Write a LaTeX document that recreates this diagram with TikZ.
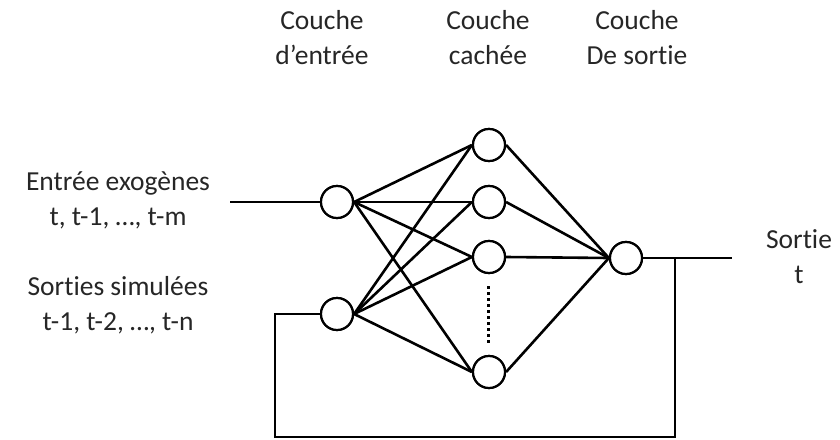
\documentclass[tikz,border=0pt]{standalone}
\usepackage{fontspec}
\setmainfont{Carlito}[Ligatures={NoCommon,NoRare,NoContextual}]
\newcommand{\nolig}{\kern0pt }
\begin{document}
\begin{tikzpicture}[x=1pt,y=-1pt,
  neuron/.style={circle,draw,line width=2.2pt,minimum size=32pt,inner sep=0pt,fill=white},
  conn/.style={line width=2.6pt},
  lbl/.style={align=center,font=\fontsize{27.5}{35}\selectfont,inner sep=0pt,text=black!85}]
\useasboundingbox (0,0) rectangle (840,439);
% nodes
\node[neuron] (i1) at (337,202) {};
\node[neuron] (i2) at (337,314) {};
\node[neuron] (h1) at (489,145) {};
\node[neuron] (h2) at (489,202) {};
\node[neuron] (h3) at (489,257) {};
\node[neuron] (h4) at (489,372) {};
\node[neuron] (o) at (626,258) {};
% labels
\node[lbl] (t1) at (322,38) {Couche\\d’entrée};
\node[lbl] (t2) at (488,38) {Couche\\cachée};
\node[lbl] (t3) at (637,38) {Couche\\De sort\nolig ie};
\node[lbl] (lin1) at (118,200) {Entrée exogènes\\t, t-1, …, t-m};
\node[lbl] (lin2) at (118,305) {Sort\nolig ies simulées\\t-1, t-2, …, t-n};
\node[lbl] (lout) at (799,257) {Sort\nolig ie\\t};
% coordinates
\coordinate (inA) at (230,202);
\coordinate (fbL) at (275,314);
\coordinate (fbBL) at (275,437);
\coordinate (fbBR) at (675,437);
\coordinate (fbT) at (675,258);
\coordinate (outE) at (732,258);
\coordinate (dTop) at (488,286);
\coordinate (dBot) at (488,344);
% connections
\foreach \i in {i1,i2}{
  \foreach \h in {h1,h2,h3,h4}{
    \draw[conn] (\i.east) -- (\h.west);
  }
}
\foreach \h in {h1,h2,h3,h4}{
  \draw[conn] (\h.east) -- (o.west);
}
\draw[conn] (inA) -- (i1.west);
\draw[conn] (o.east) -- (outE);
\draw[conn] (i2.west) -- (fbL) -- (fbBL) -- (fbBR) -- (fbT);
\draw[line width=3pt,dash pattern=on 3pt off 3pt] (dTop) -- (dBot);
% redraw neurons on top
\foreach \n in {i1,i2,h1,h2,h3,h4,o}{
  \draw[line width=2.2pt,fill=white] (\n.center) circle (16pt);
}
\end{tikzpicture}
\end{document}
